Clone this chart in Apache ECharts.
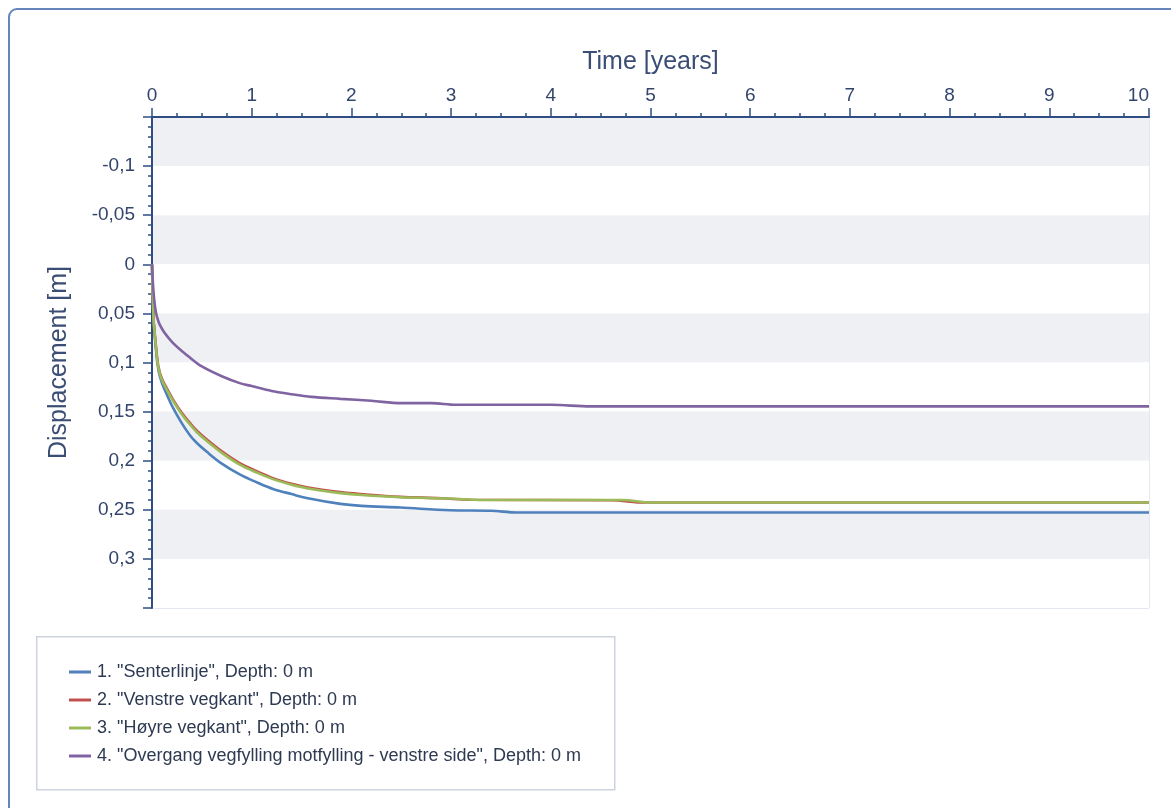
<!DOCTYPE html>
<html>
<head>
<meta charset="utf-8">
<script src="https://cdn.jsdelivr.net/npm/echarts@6/dist/echarts.min.js"></script>
<style>
  html, body { margin: 0; padding: 0; background: #fff; overflow: hidden; }
  #frame { position: absolute; left: 8px; top: 8px; width: 1250px; height: 900px;
           border: 2px solid #6685bd; border-radius: 9px; box-sizing: border-box; }
  #chart { position: absolute; left: 0; top: 0; width: 1171px; height: 808px; }
</style>
</head>
<body>
<div id="frame"></div>
<div id="chart"></div>
<script>
// ---- data (time in years, displacement in m) ----
const seriesNames = [
  '1. "Senterlinje", Depth: 0 m',
  '2. "Venstre vegkant", Depth: 0 m',
  '3. "Høyre vegkant", Depth: 0 m',
  '4. "Overgang vegfylling motfylling - venstre side", Depth: 0 m'
];
const tBlue = [0, 0.015, 0.03, 0.063, 0.1, 0.15, 0.21, 0.3, 0.38, 0.45, 0.55, 0.7, 0.88, 1.05, 1.22, 1.4, 1.55, 1.89, 2.1, 2.49, 2.99, 3.4, 3.66, 10];
const vBlue = [0, 0.055, 0.0755, 0.107, 0.121, 0.133, 0.146, 0.162, 0.174, 0.182, 0.191, 0.203, 0.214, 0.222, 0.229, 0.234, 0.238, 0.244, 0.246, 0.2477, 0.2505, 0.2510, 0.2527, 0.2527];
const tRed = [0, 0.015, 0.03, 0.063, 0.1, 0.15, 0.21, 0.3, 0.38, 0.45, 0.55, 0.7, 0.88, 1.05, 1.22, 1.4, 1.55, 1.89, 2.1, 2.49, 2.9, 3.2, 4.6, 4.95, 10];
const vRed = [0, 0.054, 0.073, 0.1035, 0.1165, 0.1265, 0.1375, 0.1515, 0.1615, 0.1695, 0.1785, 0.1905, 0.2025, 0.2108, 0.218, 0.2235, 0.227, 0.232, 0.234, 0.2368, 0.2382, 0.2398, 0.2402, 0.2426, 0.2426];
const tGreen = [0, 0.015, 0.03, 0.063, 0.1, 0.15, 0.21, 0.3, 0.38, 0.45, 0.55, 0.7, 0.88, 1.05, 1.22, 1.4, 1.55, 1.89, 2.1, 2.49, 2.99, 3.32, 4.72, 5.0, 10];
const vGreen = [0, 0.055, 0.0745, 0.105, 0.118, 0.128, 0.139, 0.153, 0.163, 0.171, 0.180, 0.192, 0.204, 0.212, 0.219, 0.2245, 0.228, 0.233, 0.235, 0.2372, 0.2385, 0.240, 0.240, 0.2426, 0.2426];
const tPurple = [0, 0.03, 0.08, 0.2, 0.38, 0.5, 0.7, 0.88, 1.0, 1.2, 1.38, 1.6, 1.89, 2.2, 2.5, 2.8, 3.05, 4.0, 4.4, 10];
const vPurple = [0, 0.043, 0.062, 0.079, 0.095, 0.104, 0.114, 0.121, 0.124, 0.129, 0.132, 0.135, 0.137, 0.139, 0.1414, 0.1414, 0.1431, 0.1431, 0.1447, 0.1447];
const xTicks = [0, 1, 2, 3, 4, 5, 6, 7, 8, 9, 10];
const yTickLabels = ['-0,1', '-0,05', '0', '0,05', '0,1', '0,15', '0,2', '0,25', '0,3'];

const colors = ['#4f81bd', '#c0504d', '#9bbb59', '#8064a2'];
const zip = (t, v) => t.map((x, i) => [x, v[i]]);
const allData = [zip(tBlue, vBlue), zip(tRed, vRed), zip(tGreen, vGreen), zip(tPurple, vPurple)];

const FONT = "'Liberation Sans', Arial, sans-serif";
const axisColor = '#2f4d82';
const labelColor = '#33456b';

function fmtY(v) {
  const s = String(Number(v.toFixed(2))).replace('.', ',');
  return yTickLabels.indexOf(s) >= 0 ? s : '';
}
function fmtX(v) {
  const r = Math.round(v);
  return (Math.abs(v - r) < 1e-6 && xTicks.indexOf(r) >= 0) ? String(r) : '';
}

const chart = echarts.init(document.getElementById('chart'), null, { renderer: 'canvas' });
chart.setOption({
  animation: false,
  color: colors,
  textStyle: { fontFamily: FONT },
  grid: { left: 152, top: 117, width: 997, height: 491, show: true,
          borderColor: '#c9d1e2', borderWidth: 1, backgroundColor: 'transparent' },
  graphic: [{
    type: 'rect', left: 36, top: 636, z: -10,
    shape: { width: 578, height: 153 },
    style: { fill: '#fff', stroke: '#cdd3de', lineWidth: 1.5 }
  }],
  legend: {
    orient: 'vertical', left: 64, top: 657,
    itemWidth: 22, itemHeight: 3, itemGap: 8, icon: 'rect',
    textStyle: { fontFamily: FONT, fontSize: 18, color: '#2e3a52', lineHeight: 20, padding: [0, 0, 0, 1] },
    data: seriesNames
  },
  xAxis: {
    type: 'value', position: 'top', min: 0, max: 10, interval: 1,
    name: 'Time [years]', nameLocation: 'middle', nameGap: 42,
    nameTextStyle: { fontFamily: FONT, fontSize: 25, color: '#3a4d74' },
    axisLine: { show: true, onZero: false, lineStyle: { color: axisColor, width: 2 } },
    axisTick: { show: true, length: 9, lineStyle: { color: axisColor, width: 1.5 } },
    minorTick: { show: true, splitNumber: 4, length: 4, lineStyle: { color: axisColor, width: 1.5 } },
    splitLine: { show: false },
    axisLabel: { fontFamily: FONT, fontSize: 19, color: labelColor, margin: 12, formatter: fmtX, alignMaxLabel: 'right' }
  },
  yAxis: {
    type: 'value', inverse: true, min: -0.15, max: 0.35, interval: 0.05,
    name: 'Displacement [m]', nameLocation: 'middle', nameGap: 80,
    nameTextStyle: { fontFamily: FONT, fontSize: 25, color: '#3a4d74' },
    axisLine: { show: true, onZero: false, lineStyle: { color: axisColor, width: 2 } },
    axisTick: { show: true, length: 9, lineStyle: { color: axisColor, width: 1.5 } },
    minorTick: { show: true, splitNumber: 5, length: 4, lineStyle: { color: axisColor, width: 1.5 } },
    splitLine: { show: false },
    splitArea: { show: true, areaStyle: { color: ['#eff0f4', '#ffffff'] } },
    axisLabel: { fontFamily: FONT, fontSize: 19, color: labelColor, margin: 17, formatter: fmtY }
  },
  series: allData.map((d, i) => ({
    name: seriesNames[i], type: 'line', data: d, showSymbol: false, smooth: 0.35,
    lineStyle: { width: 2.6, color: colors[i] }, z: 2 + i
  }))
});
</script>
</body>
</html>
